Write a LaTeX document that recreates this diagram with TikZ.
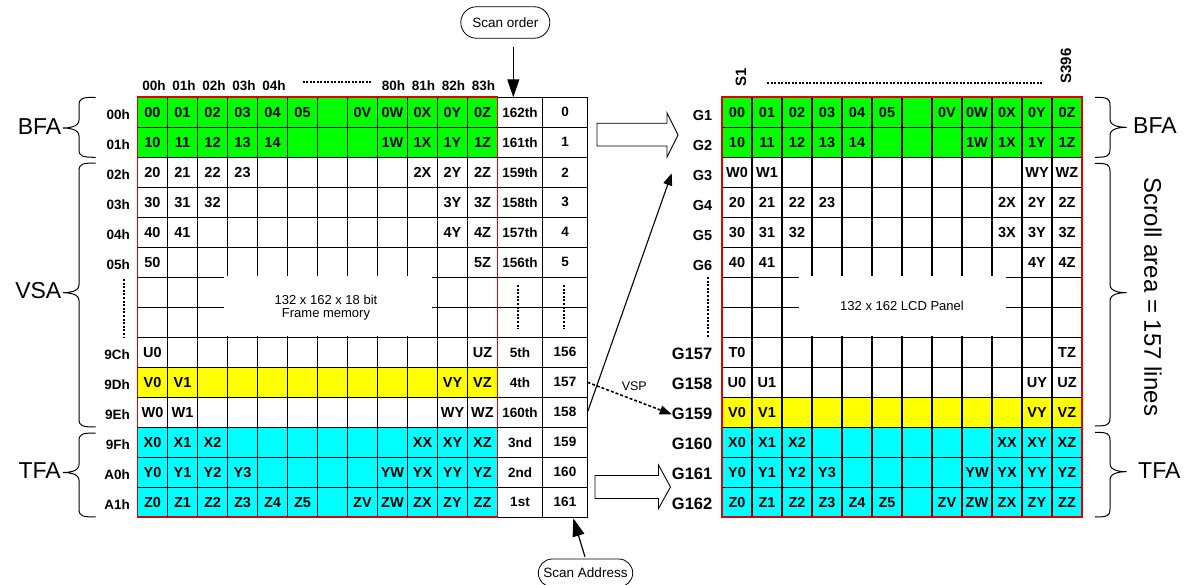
\documentclass[tikz,border=0pt]{standalone}
\usepackage{fontspec}
\setmainfont{Liberation Sans}
\usetikzlibrary{arrows.meta,shapes.misc}
\definecolor{cgreen}{RGB}{0,255,0}
\definecolor{cyel}{RGB}{255,255,0}
\definecolor{ccyan}{RGB}{0,255,255}
\definecolor{cred}{RGB}{225,0,0}
\newcommand{\myfs}[1]{\fontsize{#1}{#1}\selectfont}
% brace: xr (ends), xv (vertical), xt (tip), y1, ym, y2, c1 (ctrl near end), c2 (ctrl near tip)
\newcommand{\mybrace}[8]{%
  \draw[brace] (#1,#4) .. controls (#7,#4) and (#2,#4+1) .. (#2,#4+8)
    -- (#2,#5-8) .. controls (#2,#5-1) and (#8,#5) .. (#3,#5)
    .. controls (#8,#5) and (#2,#5+1) .. (#2,#5+8)
    -- (#2,#6-8) .. controls (#2,#6-1) and (#7,#6) .. (#1,#6);}
\tikzset{
  gl/.style={line width=1.4pt},
  rl/.style={line width=1.8pt, draw=cred},
  cell/.style={font=\myfs{14.5}\bfseries, inner sep=0pt},
  hdr/.style={font=\myfs{13.5}\bfseries, inner sep=0pt},
  rowlab/.style={font=\myfs{13.5}\bfseries, inner sep=0pt, anchor=east},
  glab/.style={font=\myfs{14.5}\bfseries, inner sep=0pt, anchor=east},
  gbig/.style={font=\myfs{16.5}\bfseries, inner sep=0pt, anchor=east},
  biglab/.style={font=\myfs{23}, inner sep=0pt},
  pill/.style={draw, line width=0.8pt, rounded rectangle, inner sep=0pt, font=\myfs{13.5}},
  memtext/.style={font=\myfs{13}, align=center, inner sep=0pt},
  dotv/.style={line width=2.2pt, dash pattern=on 2pt off 1.6pt},
  doth/.style={line width=2pt, dash pattern=on 2pt off 1.5pt},
  bigtip/.style={-{Triangle[length=18pt,width=12pt]}, line width=1.2pt},
  smalltip/.style={-{Triangle[length=12pt,width=9pt]}, line width=1.1pt},
  hollow/.style={draw, line width=0.9pt, fill=white},
  brace/.style={line width=1pt},
}
\begin{document}
\begin{tikzpicture}[x=1pt,y=-1pt]
\useasboundingbox (0,0) rectangle (1192,585);
\def\LX{137.5}\def\TY{97.3}\def\RX{722}
% ---------- fills ----------
\fill[cgreen] (\LX,\TY) rectangle ++(360,60);
\fill[cyel] (\LX,\TY+270) rectangle ++(360,30);
\fill[ccyan] (\LX,\TY+330) rectangle ++(360,90);
\fill[cgreen] (\RX,\TY) rectangle ++(360,60);
\fill[cyel] (\RX,\TY+300) rectangle ++(360,30);
\fill[ccyan] (\RX,\TY+330) rectangle ++(360,90);
% ---------- grid lines ----------
\foreach \c in {1,...,11} {
  \draw[gl] (\LX+30*\c,\TY) -- ++(0,420);
  \draw[gl] (\RX+30*\c,\TY) -- ++(0,420);
}
\foreach \r in {1,...,13} {
  \draw[gl] (\LX,\TY+30*\r) -- ++(450,0);
  \draw[gl] (\RX,\TY+30*\r) -- ++(360,0);
}
\draw[gl] (\LX+360,\TY) -- (\LX+450,\TY) -- (\LX+450,\TY+420) -- (\LX+360,\TY+420);
\draw[gl] (\LX+405,\TY) -- ++(0,420);
% ---------- white text boxes ----------
\fill[white] (224,276) rectangle (432,336.4);
\fill[white] (799.3,276) rectangle (1006,336.4);
% ---------- red borders ----------
\draw[rl] (\LX,\TY) rectangle ++(360,420);
\draw[rl] (\RX,\TY) rectangle ++(360,420);
% ---------- box texts ----------
\node[memtext] (fm) at (326,308) {132 x 162 x 18 bit\\Frame memory};
\node[memtext] (lcd) at (902,306) {132 x 162 LCD Panel};
% ---------- left cells ----------
\foreach \row [count=\r from 0] in {
  {00,01,02,03,04,05,,0V,0W,0X,0Y,0Z},
  {10,11,12,13,14,,,,1W,1X,1Y,1Z},
  {20,21,22,23,,,,,,2X,2Y,2Z},
  {30,31,32,,,,,,,,3Y,3Z},
  {40,41,,,,,,,,,4Y,4Z},
  {50,,,,,,,,,,,5Z},
  {},
  {},
  {U0,,,,,,,,,,,UZ},
  {V0,V1,,,,,,,,,VY,VZ},
  {W0,W1,,,,,,,,,WY,WZ},
  {X0,X1,X2,,,,,,,XX,XY,XZ},
  {Y0,Y1,Y2,Y3,,,,,YW,YX,YY,YZ},
  {Z0,Z1,Z2,Z3,Z4,Z5,,ZV,ZW,ZX,ZY,ZZ}} {
  \foreach \t [count=\c from 0] in \row {
    \ifx\t\empty\else
      \node[cell] (L\r-\c) at (\LX+30*\c+15,\TY+30*\r+15) {\t};
    \fi
  }
}
% ---------- right (LCD) cells ----------
\foreach \row [count=\r from 0] in {
  {00,01,02,03,04,05,,0V,0W,0X,0Y,0Z},
  {10,11,12,13,14,,,,1W,1X,1Y,1Z},
  {W0,W1,,,,,,,,,WY,WZ},
  {20,21,22,23,,,,,,2X,2Y,2Z},
  {30,31,32,,,,,,,3X,3Y,3Z},
  {40,41,,,,,,,,,4Y,4Z},
  {},
  {},
  {T0,,,,,,,,,,,TZ},
  {U0,U1,,,,,,,,,UY,UZ},
  {V0,V1,,,,,,,,,VY,VZ},
  {X0,X1,X2,,,,,,,XX,XY,XZ},
  {Y0,Y1,Y2,Y3,,,,,YW,YX,YY,YZ},
  {Z0,Z1,Z2,Z3,Z4,Z5,,ZV,ZW,ZX,ZY,ZZ}} {
  \foreach \t [count=\c from 0] in \row {
    \ifx\t\empty\else
      \node[cell] (R\r-\c) at (\RX+30*\c+15,\TY+30*\r+15) {\t};
    \fi
  }
}
% ---------- scan order / address columns ----------
\foreach \t [count=\r from 0] in {162th,161th,159th,158th,157th,156th,,,5th,4th,160th,3nd,2nd,1st} {
  \ifx\t\empty\else
    \node[hdr] (SA\r) at (\LX+382.5,\TY+30*\r+15) {\t};
  \fi
}
\foreach \t [count=\r from 0] in {0,1,2,3,4,5,,,156,157,158,159,160,161} {
  \ifx\t\empty\else
    \node[hdr] (SB\r) at (\LX+427.5,\TY+30*\r+15) {\t};
  \fi
}
\draw[dotv] (518.3,285) -- (518.3,329.3);
\draw[dotv] (564,285) -- (564,329.3);
% ---------- left headers ----------
\foreach \t [count=\c from 0] in {00h,01h,02h,03h,04h} {
  \node[hdr] (H\c) at (\LX+30*\c+16.5,85.8) {\t};
}
\foreach \t [count=\c from 8] in {80h,81h,82h,83h} {
  \node[hdr] (H\c) at (\LX+30*\c+16,85.8) {\t};
}
\draw[doth] (302.7,82) -- (372.7,82);
\foreach \t [count=\r from 0] in {00h,01h,02h,03h,04h,05h,,,9Ch,9Dh,9Eh,9Fh,A0h,A1h} {
  \ifx\t\empty\else
    \node[rowlab] (RL\r) at (130,\TY+30*\r+17) {\t};
  \fi
}
\draw[dotv] (124.3,279) -- (124.3,337);
% ---------- LCD headers ----------
\node[hdr, font=\myfs{15}\bfseries, rotate=90] (S1) at (741,77) {S1};
\node[hdr, font=\myfs{15}\bfseries, rotate=90] (S396) at (1066,66) {S396};
\draw[doth] (767,82.7) -- (1043,82.7);
\foreach \t [count=\r from 0] in {G1,G2,G3,G4,G5,G6} {
  \node[glab] (\t) at (712.5,\TY+30*\r+18) {\t};
}
\foreach \t [count=\r from 8] in {G157,G158,G159,G160,G161,G162} {
  \node[gbig] (\t) at (712.5,\TY+30*\r+17) {\t};
}
\draw[dotv] (707.7,277) -- (707.7,338);
% ---------- braces and labels ----------
\mybrace{95.7}{79}{63}{97.3}{128}{157.3}{82}{69}
\mybrace{95.7}{79}{63}{163}{292.7}{427}{82}{69}
\mybrace{95.7}{79}{63}{433}{472.5}{517}{82}{69}
\node[biglab, anchor=east] (bfaL) at (61.5,126.5) {BFA};
\node[biglab, anchor=east] (vsaL) at (61.5,291) {VSA};
\node[biglab, anchor=east] (tfaL) at (61,471) {TFA};
\mybrace{1095}{1110}{1126.5}{97.3}{127.3}{157.3}{1107}{1120.5}
\mybrace{1095}{1110}{1126.5}{163.3}{292.7}{426}{1107}{1120.5}
\mybrace{1095}{1110}{1126.5}{432.3}{471.7}{517}{1107}{1120.5}
\node[biglab, anchor=west] (bfaR) at (1133,126) {BFA};
\node[biglab, anchor=west] (tfaR) at (1138,471) {TFA};
\node[biglab, font=\myfs{24}, rotate=-90] (scroll) at (1153,297) {Scroll area = 157 lines};
% ---------- hollow arrows ----------
\draw[hollow] (597,123.3) -- (667,123.3) -- (667,113) -- (678,135) -- (667,157) -- (667,146) -- (597,146) -- cycle;
\draw[hollow] (595,475.5) -- (658.5,475.5) -- (658.5,465) -- (670.5,487) -- (658.5,508.5) -- (658.5,498.5) -- (595,498.5) -- cycle;
% ---------- scan order / scan address ----------
\node[pill, minimum width=89pt, minimum height=31.5pt] (scanorder) at (505.3,22.5) {Scan order};
\coordinate (sotip) at (513.3,97.3);
\draw[bigtip, shorten <=8pt] (scanorder.south -| sotip) -- (sotip);
\node[pill, minimum width=94.4pt, minimum height=28pt] (scanaddr) at (585.5,573) {Scan Address};
\coordinate (satip) at (573.3,518.3);
\draw[bigtip, shorten <=2pt] (scanaddr.north) -- (satip);
% ---------- VSP and G3 arrows ----------
\coordinate (vspstart) at (587.5,382.3);
\draw[smalltip, line width=1.6pt, dash pattern=on 3pt off 2pt] (vspstart) -- (G159.west);
\node[font=\myfs{12.5}, inner sep=0pt, anchor=east] (vsp) at (647,386) {VSP};
\coordinate (s158) at (587.7,411.5);
\coordinate (g3tip) at (671.7,173.3);
\draw[smalltip] (s158) -- (g3tip);
\end{tikzpicture}
\end{document}
